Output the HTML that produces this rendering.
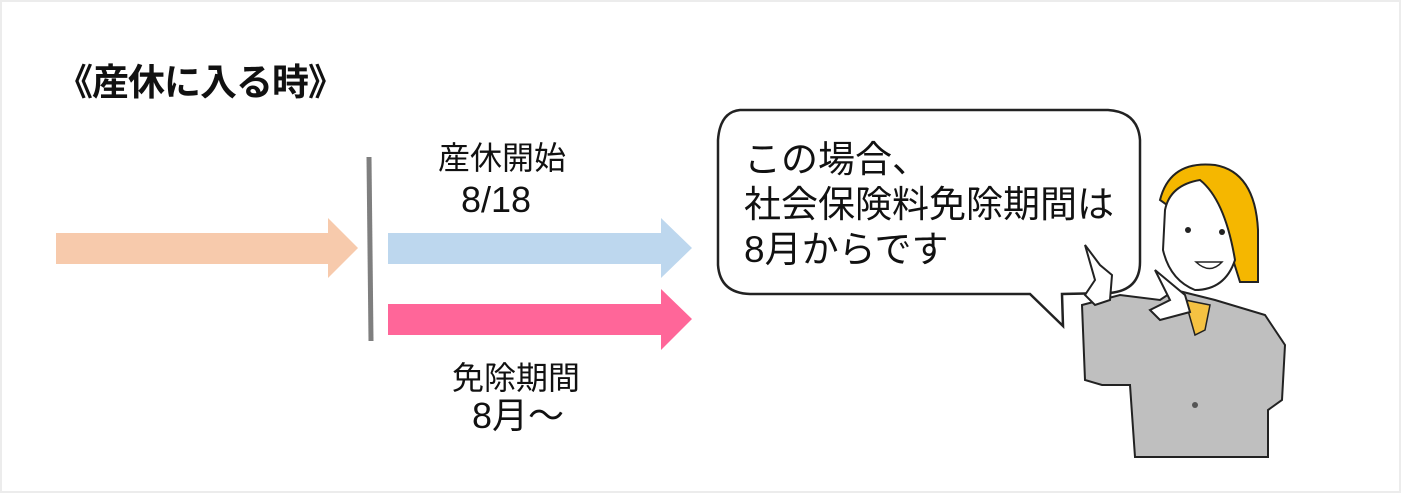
<!DOCTYPE html>
<html><head><meta charset="utf-8"><style>
body{margin:0;width:1401px;height:493px;background:#fff;position:relative;overflow:hidden;font-family:"Liberation Sans","Noto Sans CJK JP",sans-serif;}
.frame{position:absolute;left:0;top:0;width:1397px;height:489px;border:2px solid #ececec;}
.t{position:absolute;white-space:nowrap;color:#111;}
</style></head><body>
<div class="frame"></div>
<div class="t" style="left:56px;top:62px;font-size:37px;line-height:42px;font-weight:bold;letter-spacing:-1px;">《産休に入る時》</div>
<svg width="1401" height="493" style="position:absolute;left:0;top:0">
<polygon points="56,233 328,233 328,218 358,248 328,278 328,264 56,264" fill="#f7caac"/>
<line x1="369" y1="157" x2="371" y2="341" stroke="#7f7f7f" stroke-width="5"/>
<polygon points="388,233 661,233 661,218 692,248 661,278 661,264 388,264" fill="#bdd7ee"/>
<polygon points="388,304 661,304 661,289 692,319 661,350 661,335 388,335" fill="#ff6699"/>
<path d="M740,110 Q720,112 718,140 L718,265 Q720,293 750,294 L1030,294 L1063,326 L1062,294 L1110,293 Q1140,290 1140,262 L1140,140 Q1138,112 1108,110 Z" fill="#fff" stroke="#222" stroke-width="2.5"/>
<path d="M1082,305 L1120,295 L1160,300 L1175,290 L1215,300 L1265,315 L1285,345 L1282,400 L1268,410 L1268,457 L1135,457 L1130,385 L1102,385 L1085,380 Z" fill="#bfbfbf" stroke="#222" stroke-width="2"/>
<path d="M1185,300 L1210,305 L1205,330 L1195,335 Z" fill="#f5c242" stroke="#222" stroke-width="1.5"/>
<path d="M1160,200 Q1170,160 1215,165 Q1255,172 1258,230 L1258,282 L1240,282 L1230,250 Z" fill="#f5b700" stroke="#222" stroke-width="2"/>
<path d="M1165,210 Q1170,185 1200,180 Q1225,200 1235,260 Q1225,290 1195,290 Q1170,280 1163,250 Z" fill="#fff" stroke="#222" stroke-width="2"/>
<circle cx="1188" cy="230" r="3" fill="#222"/><circle cx="1222" cy="232" r="3" fill="#222"/>
<path d="M1196,262 Q1210,275 1222,262 Z" fill="#fff" stroke="#222" stroke-width="1.5"/>
<path d="M1085,245 L1095,280 L1085,295 L1095,305 L1110,300 L1112,275 L1100,265 Z" fill="#fff" stroke="#222" stroke-width="2"/>
<path d="M1155,270 L1170,300 L1150,310 L1160,320 L1190,312 L1185,295 Z" fill="#fff" stroke="#222" stroke-width="2"/>
<circle cx="1195" cy="405" r="3" fill="#555"/>
</svg>
<div class="t" style="left:438px;top:140px;font-size:32px;line-height:36px;">産休開始</div>
<div class="t" style="left:461px;top:180px;font-size:36px;line-height:40px;">8/18</div>
<div class="t" style="left:452px;top:360px;font-size:32px;line-height:36px;">免除期間</div>
<div class="t" style="left:472px;top:396px;font-size:36px;line-height:40px;">8月～</div>
<div class="t" style="left:744px;top:137px;font-size:37px;line-height:45px;">この場合、<br>社会保険料免除期間は<br>8月からです</div>
</body></html>
